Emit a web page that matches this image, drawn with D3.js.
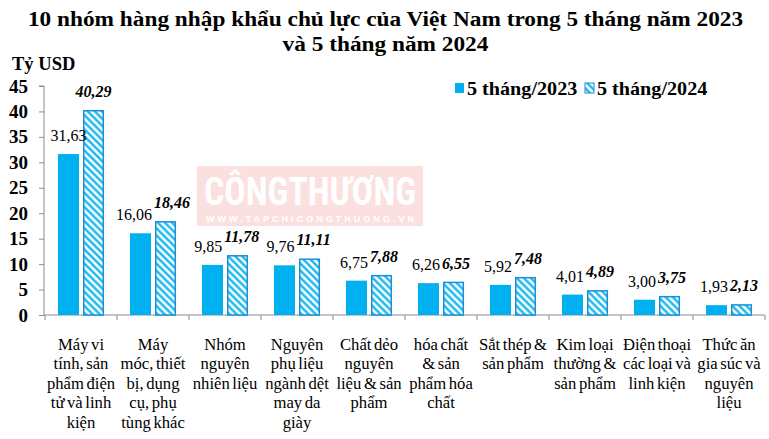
<!DOCTYPE html>
<html>
<head>
<meta charset="utf-8">
<script src="https://cdn.jsdelivr.net/npm/d3@7"></script>
<style>
  html, body { margin: 0; padding: 0; background: #ffffff; }
  svg { display: block; }
</style>
</head>
<body>
<div id="chart"></div>
<script>
// ---- Data ----
const categories = [
  "Máy vi\ntính, sản\nphẩm điện\ntử và linh\nkiện",
  "Máy\nmóc, thiết\nbị, dụng\ncụ, phụ\ntùng khác",
  "Nhóm\nnguyên\nnhiên liệu",
  "Nguyên\nphụ liệu\nngành dệt\nmay da\ngiày",
  "Chất dẻo\nnguyên\nliệu & sản\nphẩm",
  "hóa chất\n& sản\nphẩm hóa\nchất",
  "Sắt thép &\nsản phẩm",
  "Kim loại\nthường &\nsản phẩm",
  "Điện thoại\ncác loại và\nlinh kiện",
  "Thức ăn\ngia súc và\nnguyên\nliệu"
];
const seriesNames = ["5 tháng/2023", "5 tháng/2024"];
const values2023 = [31.63, 16.06, 9.85, 9.76, 6.75, 6.26, 5.92, 4.01, 3.00, 1.93];
const values2024 = [40.29, 18.46, 11.78, 11.11, 7.88, 6.55, 7.48, 4.89, 3.75, 2.13];
const yTicks = [0, 5, 10, 15, 20, 25, 30, 35, 40, 45];
const titleLines = ["10 nhóm hàng nhập khẩu chủ lực của Việt Nam trong 5 tháng năm 2023", "và 5 tháng năm 2024"];
const yUnit = "Tỷ USD";

// ---- Layout ----
const W = 769, H = 439;
const plotLeft = 45, plotRight = 765, plotTop = 86, plotBottom = 315;
const blue = "#00B0F0";
const axisGray = "#8c8c8c";
const SERIF = '"Liberation Serif", "Times New Roman", serif';

const svg = d3.select("#chart").append("svg").attr("width", W).attr("height", H);

// helper: serif text with an optional horizontal stretch
function addText(parent, px, py, str, opts = {}) {
  const sx = opts.sx || 1;
  const t = parent.append("text")
    .attr("transform", `translate(${px},${py}) scale(${sx},1)`)
    .attr("x", 0).attr("y", 0)
    .attr("text-anchor", opts.anchor || "start")
    .attr("fill", "#000")
    .style("font-family", SERIF)
    .style("font-size", (opts.size || 16) + "px")
    .style("font-weight", opts.bold ? "bold" : "normal")
    .style("font-style", opts.italic ? "italic" : "normal")
    .text(str);
  if (opts.wordSpacing != null) t.style("word-spacing", opts.wordSpacing + "px");
  return t;
}

const defs = svg.append("defs");
const pat = defs.append("pattern")
  .attr("id", "hatch")
  .attr("patternUnits", "userSpaceOnUse")
  .attr("width", 5).attr("height", 5)
  .attr("patternTransform", "rotate(-45)");
pat.append("rect").attr("width", 5).attr("height", 5).attr("fill", "#fff");
pat.append("line").attr("x1", 1.5).attr("y1", 0).attr("x2", 1.5).attr("y2", 5)
  .attr("stroke", blue).attr("stroke-width", 2.2);

// Watermark
const wm = svg.append("g").attr("class", "watermark");
wm.append("rect").attr("x", 197).attr("y", 166).attr("width", 226).attr("height", 60).attr("fill", "#fbe0e0");
wm.append("text").attr("x", 204).attr("y", 205)
  .attr("textLength", 212).attr("lengthAdjust", "spacingAndGlyphs")
  .style("font-family", '"Roboto Condensed", "Liberation Sans Narrow", Roboto, sans-serif').style("font-weight", "bold")
  .style("font-size", "38px").attr("fill", "#ffffff").text("CÔNGTHƯƠNG");
wm.append("text").attr("x", 206).attr("y", 222)
  .attr("textLength", 208).attr("lengthAdjust", "spacing")
  .style("font-family", '"Liberation Sans", sans-serif').style("font-weight", "bold")
  .style("font-size", "9px").attr("fill", "#ffffff").text("WWW.TAPCHICONGTHUONG.VN");

// Scales
const x = d3.scaleBand().domain(d3.range(categories.length)).range([plotLeft, plotRight]).padding(0);
const step = x.step();
const xs = d3.scaleBand().domain([0, 1]).range([step * 0.18, step * 0.82]).paddingInner(0.16).paddingOuter(0);
const y = d3.scaleLinear().domain([0, 45]).range([plotBottom, plotTop]);

// Title
const titleG = svg.append("g");
titleLines.forEach((line, i) => addText(titleG, W / 2 + 1, 26 + i * 25, line, { size: 21, bold: true, anchor: "middle", sx: 1.11 }));

// Unit
addText(svg, 12, 70, yUnit, { size: 18, bold: true, sx: 1.03 });

// Y axis
const yAxis = svg.append("g").attr("transform", `translate(${plotLeft - 1},0)`)
  .call(d3.axisLeft(y).tickValues(yTicks).tickSize(5).tickPadding(12).tickFormat(d3.format("d")));
yAxis.select(".domain").attr("stroke", axisGray).attr("d", `M-5,${y(45)}H0V${y(0)}`);
yAxis.selectAll(".tick line").attr("stroke", axisGray);
yAxis.selectAll(".tick text")
  .attr("x", -16)
  .attr("fill", "#000")
  .style("font-family", SERIF).style("font-weight", "bold").style("font-size", "19px");

// X axis baseline with boundary ticks
const xAxisG = svg.append("g");
xAxisG.append("line").attr("x1", plotLeft - 1).attr("x2", plotRight).attr("y1", plotBottom).attr("y2", plotBottom)
  .attr("stroke", axisGray).attr("stroke-width", 1);
xAxisG.selectAll("line.bt").data(d3.range(categories.length + 1)).join("line").attr("class", "bt")
  .attr("x1", i => plotLeft + i * step).attr("x2", i => plotLeft + i * step)
  .attr("y1", plotBottom).attr("y2", plotBottom + 5).attr("stroke", axisGray);

// Bars
const groups = svg.append("g").selectAll("g").data(categories).join("g")
  .attr("transform", (d, i) => `translate(${x(i)},0)`);

groups.append("rect")
  .attr("x", xs(0)).attr("width", xs.bandwidth())
  .attr("y", (d, i) => y(values2023[i])).attr("height", (d, i) => y(0) - y(values2023[i]))
  .attr("fill", blue);

groups.append("rect")
  .attr("x", xs(1) + 0.75).attr("width", xs.bandwidth() - 1.5)
  .attr("y", (d, i) => y(values2024[i]) + 0.75).attr("height", (d, i) => y(0) - y(values2024[i]) - 0.75)
  .attr("fill", "url(#hatch)").attr("stroke", "#1a8fd8").attr("stroke-width", 1.5);

const fmt = v => v.toFixed(2).replace(".", ",");

groups.each(function(d, i) {
  const g = d3.select(this);
  const c0 = xs(0) + xs.bandwidth() / 2, c1 = xs(1) + xs.bandwidth() / 2;
  const y0 = y(values2023[i]) - 13, y1 = y(values2024[i]) - 13;
  const t0 = addText(g, c0, y0, fmt(values2023[i]), { size: 16, anchor: "middle" });
  const t1 = addText(g, c1, y1, fmt(values2024[i]), { size: 16, bold: true, italic: true, anchor: "middle" });
  // push the two value labels apart when they would collide on the same height band
  const w0 = t0.node().getComputedTextLength(), w1 = t1.node().getComputedTextLength();
  const overlapY = Math.abs(y0 - y1) < 15;
  const overlapX = (c0 + w0 / 2 + 2) - (c1 - w1 / 2);
  if (overlapY && overlapX > 0) {
    t0.attr("transform", `translate(${c0 - overlapX / 2},${y0}) scale(1,1)`);
    t1.attr("transform", `translate(${c1 + overlapX / 2},${y1}) scale(1,1)`);
  }
  const lab = addText(g, step / 2, 0, null, { size: 16, anchor: "middle", sx: 1.04, wordSpacing: -1.5 });
  d.split("\n").forEach((line, k) => {
    lab.append("tspan").attr("x", 0).attr("y", 350 + k * 19.5).text(line);
  });
});

// Legend
const legend = svg.append("g");
const legX = [455, 585];
seriesNames.forEach((name, i) => {
  legend.append("rect").attr("x", legX[i]).attr("y", 83).attr("width", 9).attr("height", 10)
    .attr("fill", i === 0 ? blue : "url(#hatch)")
    .attr("stroke", i === 0 ? "none" : "#1a8fd8").attr("stroke-width", i === 0 ? 0 : 1);
  addText(legend, legX[i] + 12, 95, name, { size: 18, bold: true, sx: 1.12 });
});
</script>
</body>
</html>
